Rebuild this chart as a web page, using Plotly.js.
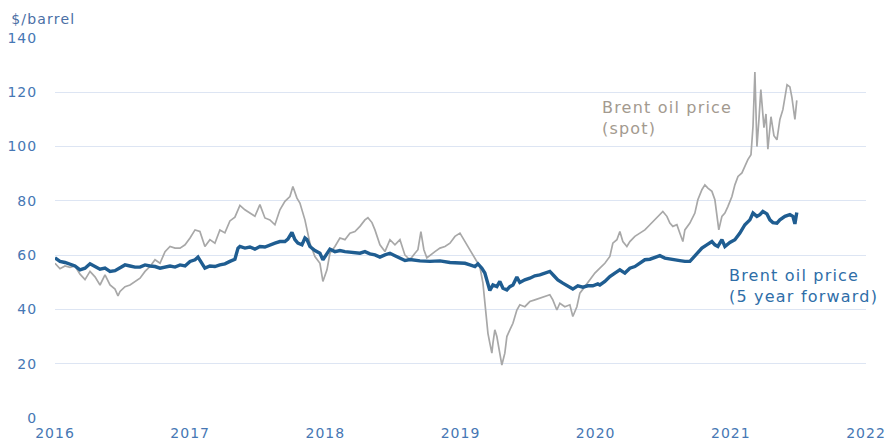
<!DOCTYPE html>
<html>
<head>
<meta charset="utf-8">
<script src="https://cdn.plot.ly/plotly-3.0.1.min.js"></script>
<style>
html,body{margin:0;padding:0;background:#fff}
#chart{width:888px;height:441px}
#chart .xtick text, #chart .ytick text{letter-spacing:1px}
#chart .annotation-text{letter-spacing:1.2px}
</style>
</head>
<body>
<div id="chart"></div>
<script>
// Brent oil price (spot): decimal year, $/barrel
const spotX = [2016.000,2016.037,2016.074,2016.111,2016.148,2016.185,2016.222,2016.259,2016.296,2016.333,2016.370,2016.407,2016.444,2016.466,2016.481,2016.518,2016.555,2016.592,2016.629,2016.666,2016.703,2016.740,2016.777,2016.814,2016.851,2016.888,2016.925,2016.962,2016.999,2017.036,2017.072,2017.109,2017.146,2017.183,2017.220,2017.257,2017.294,2017.331,2017.368,2017.405,2017.442,2017.479,2017.516,2017.553,2017.590,2017.627,2017.664,2017.701,2017.738,2017.760,2017.790,2017.812,2017.849,2017.886,2017.923,2017.960,2017.982,2018.012,2018.034,2018.071,2018.108,2018.145,2018.182,2018.219,2018.256,2018.293,2018.315,2018.345,2018.367,2018.404,2018.441,2018.478,2018.515,2018.552,2018.589,2018.626,2018.663,2018.685,2018.707,2018.729,2018.751,2018.774,2018.811,2018.848,2018.885,2018.922,2018.959,2018.996,2019.018,2019.047,2019.070,2019.107,2019.143,2019.166,2019.180,2019.195,2019.203,2019.217,2019.232,2019.240,2019.254,2019.269,2019.291,2019.306,2019.328,2019.343,2019.365,2019.388,2019.417,2019.439,2019.476,2019.513,2019.550,2019.587,2019.624,2019.661,2019.683,2019.713,2019.735,2019.772,2019.809,2019.831,2019.861,2019.883,2019.920,2019.957,2019.994,2020.031,2020.068,2020.105,2020.127,2020.157,2020.179,2020.201,2020.231,2020.253,2020.290,2020.327,2020.364,2020.401,2020.438,2020.475,2020.497,2020.527,2020.549,2020.571,2020.601,2020.623,2020.645,2020.660,2020.697,2020.734,2020.756,2020.786,2020.808,2020.830,2020.860,2020.882,2020.897,2020.911,2020.934,2020.956,2020.978,2021.008,2021.030,2021.053,2021.082,2021.104,2021.126,2021.149,2021.164,2021.178,2021.193,2021.208,2021.222,2021.245,2021.260,2021.274,2021.297,2021.319,2021.341,2021.363,2021.385,2021.416,2021.437,2021.452,2021.467,2021.474,2021.488];
const spotY = [57,55,56,55.5,56,53,51,54,52,49,52.7,49,47.5,45,46.6,48.4,49,50.3,51.5,54,55.8,58.3,57,61.3,63.2,62.6,62.6,63.8,66.3,69.3,68.7,63.2,65.7,64.4,69.3,68.2,72.6,74,78.3,76.7,75.5,74.3,78.6,73.7,73,71.2,76.7,79.8,81.6,85.3,81,79.2,73,64.4,59.5,57,50.3,54.6,60.7,63.2,66.3,65.7,68.1,68.7,70.6,73,73.8,72,69.3,63.8,61.3,65.7,63.8,65.7,60,58.3,60.7,62,68.7,62,59,60,61.3,62.6,63.2,64.4,66.9,68.1,66.3,63.8,62,59,55.8,49.7,43.5,36.1,31.2,27.6,23.9,27.6,32.5,30,23.9,19.5,23.9,30,32.5,34.9,39.8,41.7,41,42.9,43.5,44.2,44.7,45.4,43.5,39.8,42.3,41,41.7,37.4,41,46,48.4,50.9,53.4,55.2,57,59.5,64.4,65.7,68.7,65,63.2,65,66.9,68.1,69.3,71.2,73,74.9,76.1,74.3,71.8,70.6,71.2,68.1,65,69.3,71.8,75.5,80.4,84.1,85.9,84.7,83.5,80.4,75.5,69.3,74.3,75.5,77.9,81.6,85.9,89,90.3,92.7,95.2,97,107.5,127.5,100,110,121,107,112,99,111,104,102.5,110,113.6,122.8,122,118,113.6,110,117];

// Brent oil price (5 year forward): decimal year, $/barrel
const fwdX = [2016.000,2016.037,2016.074,2016.111,2016.148,2016.185,2016.222,2016.259,2016.296,2016.333,2016.370,2016.407,2016.444,2016.481,2016.518,2016.555,2016.592,2016.629,2016.666,2016.703,2016.740,2016.777,2016.814,2016.851,2016.888,2016.925,2016.962,2016.999,2017.036,2017.058,2017.087,2017.109,2017.146,2017.183,2017.220,2017.257,2017.294,2017.331,2017.354,2017.368,2017.405,2017.442,2017.479,2017.516,2017.553,2017.590,2017.627,2017.664,2017.701,2017.723,2017.753,2017.775,2017.797,2017.827,2017.849,2017.864,2017.886,2017.923,2017.960,2017.982,2018.012,2018.034,2018.071,2018.108,2018.145,2018.182,2018.219,2018.256,2018.293,2018.330,2018.367,2018.404,2018.441,2018.478,2018.515,2018.552,2018.589,2018.626,2018.663,2018.700,2018.774,2018.848,2018.922,2018.996,2019.033,2019.070,2019.107,2019.129,2019.158,2019.180,2019.195,2019.217,2019.240,2019.269,2019.291,2019.314,2019.343,2019.365,2019.388,2019.417,2019.439,2019.476,2019.513,2019.550,2019.587,2019.624,2019.661,2019.691,2019.720,2019.757,2019.794,2019.831,2019.868,2019.905,2019.942,2019.979,2020.016,2020.031,2020.068,2020.105,2020.142,2020.179,2020.216,2020.253,2020.290,2020.327,2020.364,2020.401,2020.438,2020.475,2020.512,2020.549,2020.586,2020.623,2020.660,2020.697,2020.719,2020.749,2020.786,2020.822,2020.860,2020.882,2020.904,2020.934,2020.956,2020.993,2021.030,2021.067,2021.104,2021.141,2021.164,2021.193,2021.215,2021.237,2021.267,2021.289,2021.311,2021.341,2021.363,2021.400,2021.437,2021.459,2021.474,2021.488];
const fwdY = [59,57.7,57.3,56.8,56,54.6,55.2,56.8,55.8,54.8,55.2,54,54.3,55.2,56.4,56,55.6,55.6,56.4,56,55.8,55.2,55.6,56,55.6,56.4,56,57.7,58.3,59.3,57,55.2,56,55.8,56.4,56.8,57.7,58.5,62.6,63.2,62.6,63,62.2,63.2,63,63.8,64.4,65,65,65.9,68.4,65.7,64.4,63.8,66.3,65.7,63.2,61.7,60.7,58.3,60.7,62.2,61.3,61.7,61.3,61,61,60.7,61.3,60.5,60.1,59.3,60.1,60.7,59.8,58.9,58,58.4,58,57.9,57.7,57.9,57.3,57.3,57,56.4,55.8,56.8,55.2,53.4,50.3,47,49,48.4,50.3,47.8,47.2,48.4,49,51.9,49.9,50.9,51.5,52.4,52.7,53.4,54,52.4,50.9,49.7,48.7,47.5,48.7,48.2,48.7,48.7,49.4,49,50.3,52.1,53.4,54.6,53.4,55.2,55.8,57,58.3,58.5,59.3,59.8,58.9,58.5,58.3,58,57.7,57.7,58.9,60.7,62.6,63.8,65,63.8,63.2,65.7,63.2,64.7,65.7,68.1,71.2,73,75.5,74.3,74.9,76.1,75.2,73,72,71.8,73,74.3,74.9,74.3,71.5,75.7];

const yTicks = [0,20,40,60,80,100,120,140];
const xTicks = [2016,2017,2018,2019,2020,2021,2022];
const xTickText = ['2016','2017','2018','2019','2020','2021','2022'];

const FONT = '"DejaVu Sans", sans-serif';
const traces = [
  {x: spotX, y: spotY, type:'scatter', mode:'lines', line:{color:'#a8a8a8', width:1.7}, hoverinfo:'skip'},
  {x: fwdX, y: fwdY, type:'scatter', mode:'lines', line:{color:'#1f5d91', width:3.4}, hoverinfo:'skip'}
];
const layout = {
  width: 888, height: 441,
  margin: {l:55, r:22, t:38, b:23},
  paper_bgcolor:'#ffffff', plot_bgcolor:'#ffffff',
  showlegend:false,
  font:{family:FONT, size:14, color:'#4677b4'},
  xaxis:{range:[2016,2022], tickvals:xTicks, ticktext:xTickText, showgrid:false, zeroline:false, showline:false,
         ticks:'outside', ticklen:2, tickcolor:'rgba(0,0,0,0)', tickfont:{family:FONT, size:14, color:'#4677b4'}},
  yaxis:{range:[0,140], tickvals:yTicks, showgrid:true, gridcolor:'#dde5f3', gridwidth:1, zeroline:false, showline:false,
         ticks:'outside', ticklen:14, tickcolor:'rgba(0,0,0,0)', tickfont:{family:FONT, size:14, color:'#4677b4'}},
  annotations:[
    {xref:'paper', yref:'paper', x:-0.051, y:1.0, xanchor:'left', yanchor:'bottom', yshift:9, text:'$/barrel', showarrow:false,
     font:{family:FONT, size:14, color:'#4a6fa5'}},
    {xref:'x', yref:'y', x:2020.03, y:110.5, xanchor:'left', yanchor:'middle', align:'left', showarrow:false,
     text:'Brent oil price<br>(spot)', font:{family:FONT, size:16, color:'#a39a8f'}},
    {xref:'x', yref:'y', x:2020.97, y:48.5, xanchor:'left', yanchor:'middle', align:'left', showarrow:false,
     text:'Brent oil price<br>(5 year forward)', font:{family:FONT, size:16, color:'#2f6ea8'}}
  ]
};
Plotly.newPlot('chart', traces, layout, {staticPlot:true, displayModeBar:false});
</script>
</body>
</html>
